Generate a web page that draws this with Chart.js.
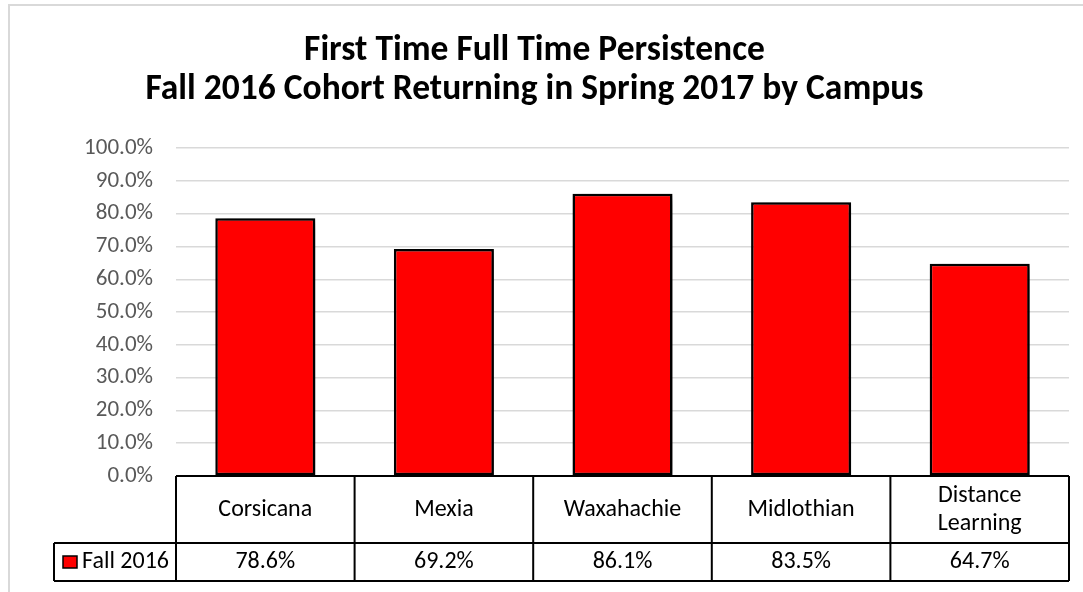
<!DOCTYPE html>
<html>
<head>
<meta charset="utf-8">
<script src="https://cdn.jsdelivr.net/npm/chart.js@4.4.1/dist/chart.umd.min.js"></script>
<style>
    html, body { margin: 0; padding: 0; background: #fff; }
    #wrap { width: 1083px; height: 592px; position: relative; }
</style>
</head>
<body>
<div id="wrap"><canvas id="chart-persistence"></canvas></div>
<script>
const titleLines = ['First Time Full Time Persistence', 'Fall 2016 Cohort Returning in Spring 2017 by Campus'];
const categories = ['Corsicana', 'Mexia', 'Waxahachie', 'Midlothian', ['Distance', 'Learning']];
const seriesName = 'Fall 2016';
const fall2016 = [78.6, 69.2, 86.1, 83.5, 64.7];
const yMax = 100;
const yStep = 10;

const FONT = 'Carlito, Calibri, Lato, sans-serif';
const RED = '#ff0000';

function formatPct(value) {
    return `${Number(value).toFixed(1)}%`;
}

// frame around the whole chart, like the spreadsheet chart object
const framePlugin = {
    id: 'frame',
    beforeDraw(chart) {
        const { ctx, width, height } = chart;
        ctx.save();
        ctx.fillStyle = '#fff';
        ctx.fillRect(0, 0, width, height);
        ctx.strokeStyle = '#d9d9d9';
        ctx.lineWidth = 2;
        ctx.strokeRect(9, 5, width + 20, height + 20);
        ctx.restore();
    },
};

// soft drop shadow behind the bars
const barShadowPlugin = {
    id: 'barShadow',
    beforeDatasetsDraw(chart) {
        const { ctx } = chart;
        ctx.save();
        ctx.shadowColor = 'rgba(0,0,0,0.6)';
        ctx.shadowBlur = 10;
        ctx.shadowOffsetX = 6;
        ctx.shadowOffsetY = 3;
    },
    afterDatasetsDraw(chart) {
        chart.ctx.restore();
    },
};

// data table under the plot: category row, then the series row with its legend key
const dataTablePlugin = {
    id: 'dataTable',
    afterDraw(chart) {
        const { ctx, chartArea: { left, right, bottom } } = chart;
        const n = categories.length;
        const colW = (right - left) / n;
        const rowTop = bottom;
        const rowMid = bottom + 67;
        const rowEnd = rowMid + 38;
        const legendLeft = 54;

        ctx.save();
        ctx.strokeStyle = '#000';
        ctx.lineWidth = 2;
        ctx.beginPath();
        ctx.moveTo(left, rowTop); ctx.lineTo(right, rowTop);
        ctx.moveTo(legendLeft, rowMid); ctx.lineTo(right, rowMid);
        ctx.moveTo(legendLeft, rowEnd); ctx.lineTo(right, rowEnd);
        ctx.moveTo(legendLeft, rowMid); ctx.lineTo(legendLeft, rowEnd);
        for (let i = 0; i <= n; i++) {
            const x = left + i * colW;
            ctx.moveTo(x, rowTop);
            ctx.lineTo(x, rowEnd);
        }
        ctx.stroke();

        ctx.fillStyle = '#000';
        ctx.font = `24px ${FONT}`;
        ctx.textAlign = 'center';
        ctx.textBaseline = 'middle';
        const catMid = (rowTop + rowMid) / 2;
        const valMid = (rowMid + rowEnd) / 2;
        categories.forEach((cat, i) => {
            const cx = left + (i + 0.5) * colW;
            const lines = Array.isArray(cat) ? cat : [cat];
            const lh = 28;
            lines.forEach((line, j) => {
                ctx.fillText(line, cx, catMid + (j - (lines.length - 1) / 2) * lh);
            });
            ctx.fillText(formatPct(fall2016[i]), cx, valMid);
        });

        // legend key
        ctx.fillStyle = RED;
        ctx.fillRect(63, valMid - 6, 14, 12);
        ctx.lineWidth = 1.5;
        ctx.strokeRect(63, valMid - 6, 14, 12);
        ctx.fillStyle = '#000';
        ctx.textAlign = 'left';
        ctx.fillText(seriesName, 82, valMid);
        ctx.restore();
    },
};

new Chart(document.getElementById('chart-persistence'), {
    type: 'bar',
    data: {
        labels: categories,
        datasets: [{
            label: seriesName,
            data: fall2016,
            backgroundColor: RED,
            borderColor: '#000',
            borderWidth: 2.5,
            borderSkipped: false,
            categoryPercentage: 1,
            barPercentage: 0.56,
        }],
    },
    options: {
        responsive: true,
        maintainAspectRatio: false,
        animation: false,
        layout: { padding: { top: 0, right: 14, bottom: 116, left: 0 } },
        plugins: {
            legend: { display: false },
            tooltip: { enabled: false },
            title: {
                display: true,
                text: titleLines,
                color: '#000',
                font: { family: FONT, size: 35.5, weight: 'bold', lineHeight: 1.1 },
                padding: { top: 32, bottom: 38 },
            },
        },
        scales: {
            x: { display: false },
            y: {
                min: 0,
                max: yMax,
                afterFit: (scale) => { scale.width = 176; },
                border: { display: false },
                grid: { color: '#d9d9d9', lineWidth: 1.5, drawTicks: false },
                ticks: {
                    stepSize: yStep,
                    padding: 23,
                    color: '#595959',
                    font: { family: FONT, size: 23 },
                    callback: (v) => formatPct(v),
                },
            },
        },
    },
    plugins: [framePlugin, barShadowPlugin, dataTablePlugin],
});
</script>
</body>
</html>
